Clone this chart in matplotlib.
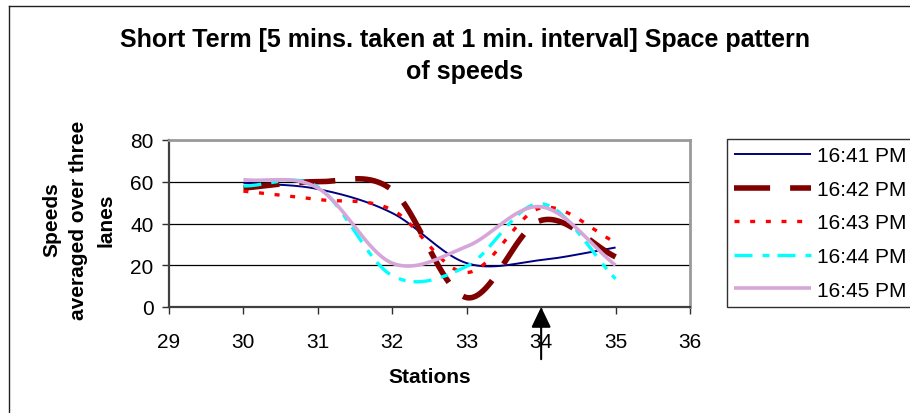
import numpy as np
import matplotlib
matplotlib.use("Agg")
import matplotlib.pyplot as plt
from matplotlib.lines import Line2D

plt.rcParams['font.family'] = ['Liberation Sans', 'DejaVu Sans']

# ---- data ----
stations = [30, 31, 32, 33, 34, 35]
labels = ["16:41 PM", "16:42 PM", "16:43 PM", "16:44 PM", "16:45 PM"]
s1641 = [59.5, 56.5, 45.0, 21.0, 22.5, 28.5]
s1642 = [57.0, 60.0, 56.0, 4.5, 41.5, 24.0]
s1643 = [55.5, 51.5, 46.5, 16.5, 47.5, 31.0]
s1644 = [58.0, 57.5, 15.0, 19.5, 49.5, 13.5]
s1645 = [61.0, 57.0, 21.0, 29.0, 48.0, 20.0]
series = [s1641, s1642, s1643, s1644, s1645]
x_ticks = [29, 30, 31, 32, 33, 34, 35, 36]
y_ticks = [0, 20, 40, 60, 80]
arrow_station = 34

title = "Short Term [5 mins. taken at 1 min. interval] Space pattern\nof speeds"
xlabel = "Stations"
ylabel = "Speeds\naveraged over three\nlanes"

# ---- styles ----
styles = [
    dict(color='#000080', lw=1.4, ls='-'),
    dict(color='#800000', lw=4.0, ls=(0, (6.5, 3.6))),
    dict(color='#FF0000', lw=2.4, ls=(0, (1.5, 3.2))),
    dict(color='#00FFFF', lw=2.4, ls=(0, (5.4, 3.0, 2.1, 2.4))),
    dict(color='#D6A6D9', lw=2.6, ls='-'),
]


def smooth(x, y, n=60):
    """Excel-like smoothed line (Catmull-Rom / cubic Hermite through the points)."""
    x = np.asarray(x, float)
    y = np.asarray(y, float)
    m = np.empty_like(y)
    m[1:-1] = (y[2:] - y[:-2]) / 2.0
    m[0] = y[1] - y[0]
    m[-1] = y[-1] - y[-2]
    xs, ys = [], []
    t = np.linspace(0, 1, n)
    h00 = 2 * t**3 - 3 * t**2 + 1
    h10 = t**3 - 2 * t**2 + t
    h01 = -2 * t**3 + 3 * t**2
    h11 = t**3 - t**2
    for i in range(len(x) - 1):
        xs.append(x[i] + (x[i + 1] - x[i]) * t)
        ys.append(h00 * y[i] + h10 * m[i] + h01 * y[i + 1] + h11 * m[i + 1])
    return np.concatenate(xs), np.concatenate(ys)


W, H = 910, 414
fig = plt.figure(figsize=(W / 100, H / 100), dpi=100)
fig.patch.set_facecolor('white')

L, R, T, B = 169, 690, 141, 308
ax = fig.add_axes([L / W, 1 - B / H, (R - L) / W, (B - T) / H])

for ys, st, lab in zip(series, styles, labels):
    sx, sy = smooth(stations, ys)
    ax.plot(sx, sy, color=st['color'], lw=st['lw'], linestyle=st['ls'],
            label=lab, solid_capstyle='butt', dash_capstyle='butt')

ax.set_xlim(x_ticks[0], x_ticks[-1])
ax.set_ylim(y_ticks[0], y_ticks[-1])
ax.set_xticks(x_ticks)
ax.set_yticks(y_ticks)
ax.tick_params(axis='both', labelsize=15, direction='out', length=5,
               width=1, color='#303030')
ax.tick_params(axis='x', pad=13)
ax.tick_params(axis='y', pad=6)
ax.yaxis.grid(True, color='black', lw=0.9)
ax.set_axisbelow(True)

for side in ['left', 'bottom']:
    ax.spines[side].set_color('#404040')
    ax.spines[side].set_linewidth(1.6)
for side in ['top', 'right']:
    ax.spines[side].set_color('#9a9a9a')
    ax.spines[side].set_linewidth(2.0)

ax.set_xlabel(xlabel, fontsize=15, fontweight='bold')
ax.xaxis.set_label_coords(0.5, (B - 378) / (B - T))
ax.xaxis.label.set_va('center')
ax.set_ylabel(ylabel, fontsize=15, fontweight='bold', linespacing=1.52)
ax.yaxis.set_label_coords((79 - L) / (R - L), (B - 220) / (B - T))
ax.yaxis.label.set_va('center')
ax.yaxis.label.set_ha('center')

# arrow marking station 34
ax.annotate('', xy=(arrow_station, 0), xytext=(arrow_station, -25),
            xycoords='data', textcoords='data', annotation_clip=False,
            arrowprops=dict(arrowstyle='-|>,head_length=1.25,head_width=0.6',
                            mutation_scale=10, color='black', lw=1.5,
                            shrinkA=0, shrinkB=0), zorder=10)

# title
fig.text(465 / W, 1 - 79.5 / H, title, ha='center', va='baseline', fontsize=18,
         fontweight='bold', linespacing=1.47,
         transform=fig.transFigure)

# legend
handles = [Line2D([0], [0], color=st['color'], lw=st['lw'], linestyle=st['ls'],
                  dash_capstyle='butt', solid_capstyle='butt') for st in styles]
leg = fig.legend(handles, labels, loc='upper left',
                 bbox_to_anchor=(727 / W, 1 - 308 / H, 210 / W, 168 / H),
                 mode='expand', fontsize=15, handlelength=3.7,
                 handletextpad=0.25, labelspacing=0.7, borderpad=0.35,
                 borderaxespad=0, fancybox=False, framealpha=1)
leg.get_frame().set_edgecolor('#303030')
leg.get_frame().set_linewidth(1.0)

# outer chart border (top and left visible)
fig.add_artist(Line2D([9 / W, 9 / W], [0, 1 - 7 / H], color='#202020', lw=1.0,
                      transform=fig.transFigure))
fig.add_artist(Line2D([9 / W, 1], [1 - 7 / H, 1 - 7 / H], color='#202020',
                      lw=1.0, transform=fig.transFigure))

fig.savefig('out.png', dpi=100, facecolor='white')
